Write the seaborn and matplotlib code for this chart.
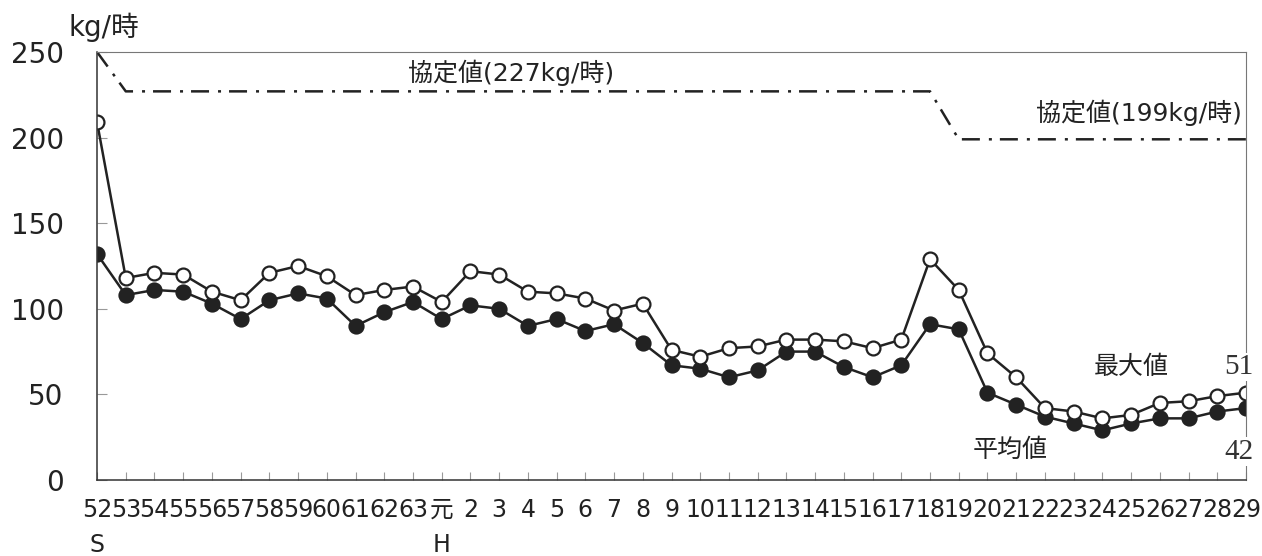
import matplotlib
matplotlib.use('Agg')
import seaborn as sns
import pandas as pd
import numpy as np
import matplotlib.pyplot as plt

# year labels (Showa 52 .. 63, Heisei 元 .. 29)
years = ["52\nS", "53", "54", "55", "56", "57", "58", "59", "60", "61", "62", "63",
         "元\nH", "2", "3", "4", "5", "6", "7", "8", "9", "10", "11", "12", "13", "14",
         "15", "16", "17", "18", "19", "20", "21", "22", "23", "24", "25", "26", "27",
         "28", "29"]

# 最大値 (kg/時)
max_vals = [209, 118, 121, 120, 110, 105, 121, 125, 119, 108, 111, 113,
            104, 122, 120, 110, 109, 106, 99, 103, 76, 72, 77, 78, 82, 82,
            81, 77, 82, 129, 111, 74, 60, 42, 40, 36, 38, 45, 46, 49, 51]

# 平均値 (kg/時)
avg_vals = [132, 108, 111, 110, 103, 94, 105, 109, 106, 90, 98, 104,
            94, 102, 100, 90, 94, 87, 91, 80, 67, 65, 60, 64, 75, 75,
            66, 60, 67, 91, 88, 51, 44, 37, 33, 29, 33, 36, 36, 40, 42]

# 協定値 (kg/時)
limit_vals = [250] + [227] * 29 + [199] * 11

sns.set_theme(style="white")
plt.rcParams['font.family'] = ['DejaVu Sans', 'Noto Sans CJK JP']

df = pd.DataFrame({"idx": np.arange(len(years)), "max": max_vals,
                   "avg": avg_vals, "limit": limit_vals})

fig = plt.figure(figsize=(12.62, 5.56), dpi=100)
ax = fig.add_axes([0.0769, 0.1367, 0.9104, 0.7698])

line_col = "#222222"

# agreement value line
sns.lineplot(data=df, x="idx", y="limit", ax=ax, color=line_col, linewidth=1.8,
             dashes=False)
ax.lines[-1].set_dashes((7.2, 3.6, 1.2, 3.2))

# average (filled) then max (open)
sns.lineplot(data=df, x="idx", y="avg", ax=ax, color=line_col, linewidth=1.8,
             marker="o", markersize=10.5, markerfacecolor=line_col,
             markeredgecolor=line_col, markeredgewidth=1.2)
sns.lineplot(data=df, x="idx", y="max", ax=ax, color=line_col, linewidth=1.8,
             marker="o", markersize=10, markerfacecolor="white",
             markeredgecolor=line_col, markeredgewidth=1.6)

ax.set_xlim(0, len(years) - 1)
ax.set_ylim(0, 250)
ax.set_xlabel("")
ax.set_ylabel("")

ax.set_xticks(df["idx"])
ax.set_xticklabels(years, fontsize=17, color="#222222")
for lbl in ax.get_xticklabels():
    lbl.set_linespacing(1.6)
ax.set_yticks([0, 50, 100, 150, 200, 250])
ax.set_yticklabels(["0", "50", "100", "150", "200", "250"], fontsize=20,
                   color="#222222")

ax.tick_params(axis="x", direction="in", length=6, width=0.8, color="#999999",
               pad=13, bottom=True)
ax.tick_params(axis="y", direction="in", length=7, width=0.8, color="#999999",
               pad=24, left=True)

for side in ["left", "bottom"]:
    ax.spines[side].set_color("#333333")
    ax.spines[side].set_linewidth(1.1)
for side in ["top", "right"]:
    ax.spines[side].set_color("#777777")
    ax.spines[side].set_linewidth(0.8)

# unit
fig.text(0.054, 0.95, "kg/時", fontsize=20, va="center", ha="left",
         color="#222222")

# annotations
ax.text(14.4, 238, "協定値(227kg/時)", fontsize=18, ha="center", va="center",
        color="#222222")
ax.text(39.86, 214.5, "協定値(199kg/時)", fontsize=18, ha="right", va="center",
        color="#222222")
ax.text(36.0, 66, "最大値", fontsize=18, ha="center", va="center",
        color="#222222")
ax.text(31.8, 17.5, "平均値", fontsize=18, ha="center", va="center",
        color="#222222")

last = len(years) - 1
ax.annotate(str(max_vals[-1]), xy=(last, 66), xytext=(-5, 0),
            textcoords="offset points", ha="center", va="center", fontsize=21,
            family="Liberation Serif", color="#333333", annotation_clip=False,
            bbox=dict(facecolor="white", edgecolor="none", pad=1))
ax.annotate(str(avg_vals[-1]), xy=(last, 16.5), xytext=(-5, 0),
            textcoords="offset points", ha="center", va="center", fontsize=21,
            family="Liberation Serif", color="#333333", annotation_clip=False,
            bbox=dict(facecolor="white", edgecolor="none", pad=1))

plt.savefig("out.png", dpi=100)
plt.close()
